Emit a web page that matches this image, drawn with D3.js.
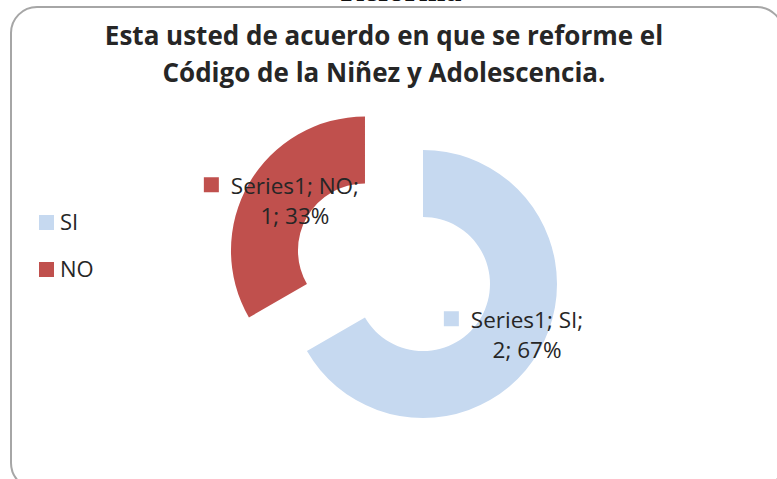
<!DOCTYPE html>
<html>
  <head>
    <meta charset="utf-8">
    <style>
      body { margin: 0; background-color: white; }
      text { font-family: "Open Sans", Lato, sans-serif; fill: #262626; }
    </style>
  </head>
  <body>
      <svg width="777" height="479"></svg>
      <script src="https://d3js.org/d3.v7.min.js"></script>
      <script>
      // data
      var categories = ["SI", "NO"];
      var values = [2, 1];
      var seriesName = "Series1";
      var titleLines = ["Esta usted de acuerdo en que se reforme el", "Código de la Niñez y Adolescencia."];

      var svg = d3.select("svg");

      var color = d3.scaleOrdinal().domain(categories).range(["#c6d9f0", "#c0504d"]);

      // heading of the page above, mostly cut off
      svg.append("text")
          .attr("x", 401).attr("y", 1)
          .attr("text-anchor", "middle")
          .style("font-family", "'Liberation Serif', serif")
          .style("font-weight", "bold")
          .style("font-size", "32px")
          .style("fill", "#111")
          .text("Reforma");

      // chart frame
      svg.append("rect")
          .attr("x", 11).attr("y", 7)
          .attr("width", 772).attr("height", 482)
          .attr("rx", 26).attr("ry", 26)
          .attr("fill", "none")
          .attr("stroke", "#a6a6a6")
          .attr("stroke-width", 2);

      svg.selectAll(".title")
          .data(titleLines)
        .enter().append("text")
          .attr("class", "title")
          .attr("x", 384)
          .attr("y", function(d, i) { return 45 + i * 37; })
          .attr("text-anchor", "middle")
          .style("font-weight", "bold")
          .style("font-size", "26px")
          .text(function(d) { return d; });

      var cx = 423, cy = 284, rOut = 134, rIn = 67, explode = 67;
      var total = d3.sum(values);

      var pie = d3.pie().sort(null).value(function(d) { return d.value; });
      var arc = d3.arc().innerRadius(rIn).outerRadius(rOut);
      var slices = pie(categories.map(function(c, i) { return {cat: c, value: values[i]}; }));

      function offset(d) {
        if (d.data.cat !== "NO") return [0, 0];
        var a = (d.startAngle + d.endAngle) / 2;
        return [Math.sin(a) * explode, -Math.cos(a) * explode];
      }

      var g = svg.append("g").attr("transform", "translate(" + cx + "," + cy + ")");

      g.selectAll(".slice")
          .data(slices)
        .enter().append("path")
          .attr("class", "slice")
          .attr("transform", function(d) { var o = offset(d); return "translate(" + o[0] + "," + o[1] + ")"; })
          .attr("d", arc)
          .attr("fill", function(d) { return color(d.data.cat); });

      // data labels
      var lab = g.selectAll(".lab")
          .data(slices)
        .enter().append("g")
          .attr("class", "lab")
          .attr("transform", function(d) {
            var o = offset(d), c = arc.centroid(d);
            return "translate(" + (c[0] + o[0] + 17) + "," + (c[1] + o[1]) + ")";
          });

      lab.append("text")
          .attr("y", -6)
          .attr("text-anchor", "middle")
          .style("font-size", "22.5px")
          .text(function(d) { return seriesName + "; " + d.data.cat + ";"; });

      lab.append("text")
          .attr("y", 24)
          .attr("text-anchor", "middle")
          .style("font-size", "22.5px")
          .text(function(d) { return d.data.value + "; " + Math.round(d.data.value / total * 100) + "%"; });

      lab.each(function() {
        var t = d3.select(this).select("text").node();
        var w = t.getComputedTextLength();
        d3.select(this).append("rect")
            .attr("x", -w / 2 - 27).attr("y", -23)
            .attr("width", 15).attr("height", 15)
            .attr("fill", function(d) { return color(d.data.cat); });
      });

      // legend
      var leg = svg.selectAll(".leg")
          .data(categories)
        .enter().append("g")
          .attr("class", "leg")
          .attr("transform", function(d, i) { return "translate(39," + (215 + i * 47) + ")"; });

      leg.append("rect")
          .attr("width", 15).attr("height", 15)
          .attr("fill", function(d) { return color(d); });

      leg.append("text")
          .attr("x", 21).attr("y", 15)
          .style("font-size", "22px")
          .text(function(d) { return d; });
      </script>
    </body>
</html>
